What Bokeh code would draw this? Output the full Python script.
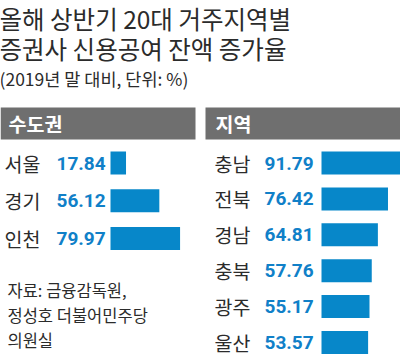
from bokeh.plotting import figure
from bokeh.models import Range1d, ColumnDataSource
from bokeh.core.properties import value
from bokeh.embed import file_html
from bokeh.resources import INLINE

# ---- data ----
title_lines = ["올해 상반기 20대 거주지역별", "증권사 신용공여 잔액 증가율"]
subtitle = "(2019년 말 대비, 단위: %)"
left_header = "수도권"
right_header = "지역"
left_regions = ["서울", "경기", "인천"]
left_values = [17.84, 56.12, 79.97]
right_regions = ["충남", "전북", "경남", "충북", "광주", "울산"]
right_values = [91.79, 76.42, 64.81, 57.76, 55.17, 53.57]
source_lines = ["자료: 금융감독원,", "정성호 더불어민주당", "의원실"]

# ---- style / layout ----
W, H = 400, 356
KFONT = "Noto Sans CJK KR"
NFONT = "Roboto"
BLUE = "#0787c9"
NUM_BLUE = "#1080c8"
GRAY = "#6f6f6f"
DARK = "#2b2b2b"
SCALE = 0.87  # px per percentage point

p = figure(width=W, height=H, output_backend="svg", toolbar_location=None,
           x_range=Range1d(0, W), y_range=Range1d(H, 0),
           min_border=0, outline_line_color=None, background_fill_color="white")
p.axis.visible = False
p.grid.visible = False

# title
p.text(x=[-1, -1], y=[18, 48], text=title_lines, text_font=value(KFONT),
       text_font_size="24.5px", text_color=DARK, text_baseline="middle")
p.text(x=[-1], y=[77.5], text=[subtitle], text_font=value(KFONT),
       text_font_size="17.5px", text_color=DARK, text_baseline="middle")

# headers
p.quad(left=[0, 205], right=[195, 400], top=[107, 107], bottom=[139, 139],
       fill_color=GRAY, line_color=None)
p.text(x=[8, 215], y=[123, 123], text=[left_header, right_header],
       text_font=value(KFONT), text_font_size="19.5px", text_font_style="bold",
       text_color="white", text_baseline="middle")

def panel(names, vals, y0, step, x_name, x_val, x_bar):
    ys = [y0 + i * step for i in range(len(names))]
    src = ColumnDataSource(dict(
        y=ys, name=names, val=[f"{v:.2f}" for v in vals],
        left=[x_bar] * len(vals), right=[x_bar + v * SCALE for v in vals]))
    p.hbar(y="y", left="left", right="right", height=23, source=src,
           fill_color=BLUE, line_color=None)
    p.text(x=x_name, y="y", text="name", source=src, text_font=value(KFONT),
           text_font_size="19.5px", text_color=DARK, text_baseline="middle")
    p.text(x=x_val, y="y", text="val", source=src, text_font=value(NFONT),
           text_font_size="19px", text_font_style="bold", text_color=NUM_BLUE,
           text_baseline="middle")

panel(left_regions, left_values, 162.5, 37.75, 4, 56, 110)
panel(right_regions, right_values, 162.5, 35.9, 214, 264, 321)

# source
p.text(x=[7, 7, 7], y=[289, 314, 339], text=source_lines, text_font=value(KFONT),
       text_font_size="16.5px", text_color=DARK, text_baseline="middle")

open("out.html", "w").write(file_html(p, INLINE))
